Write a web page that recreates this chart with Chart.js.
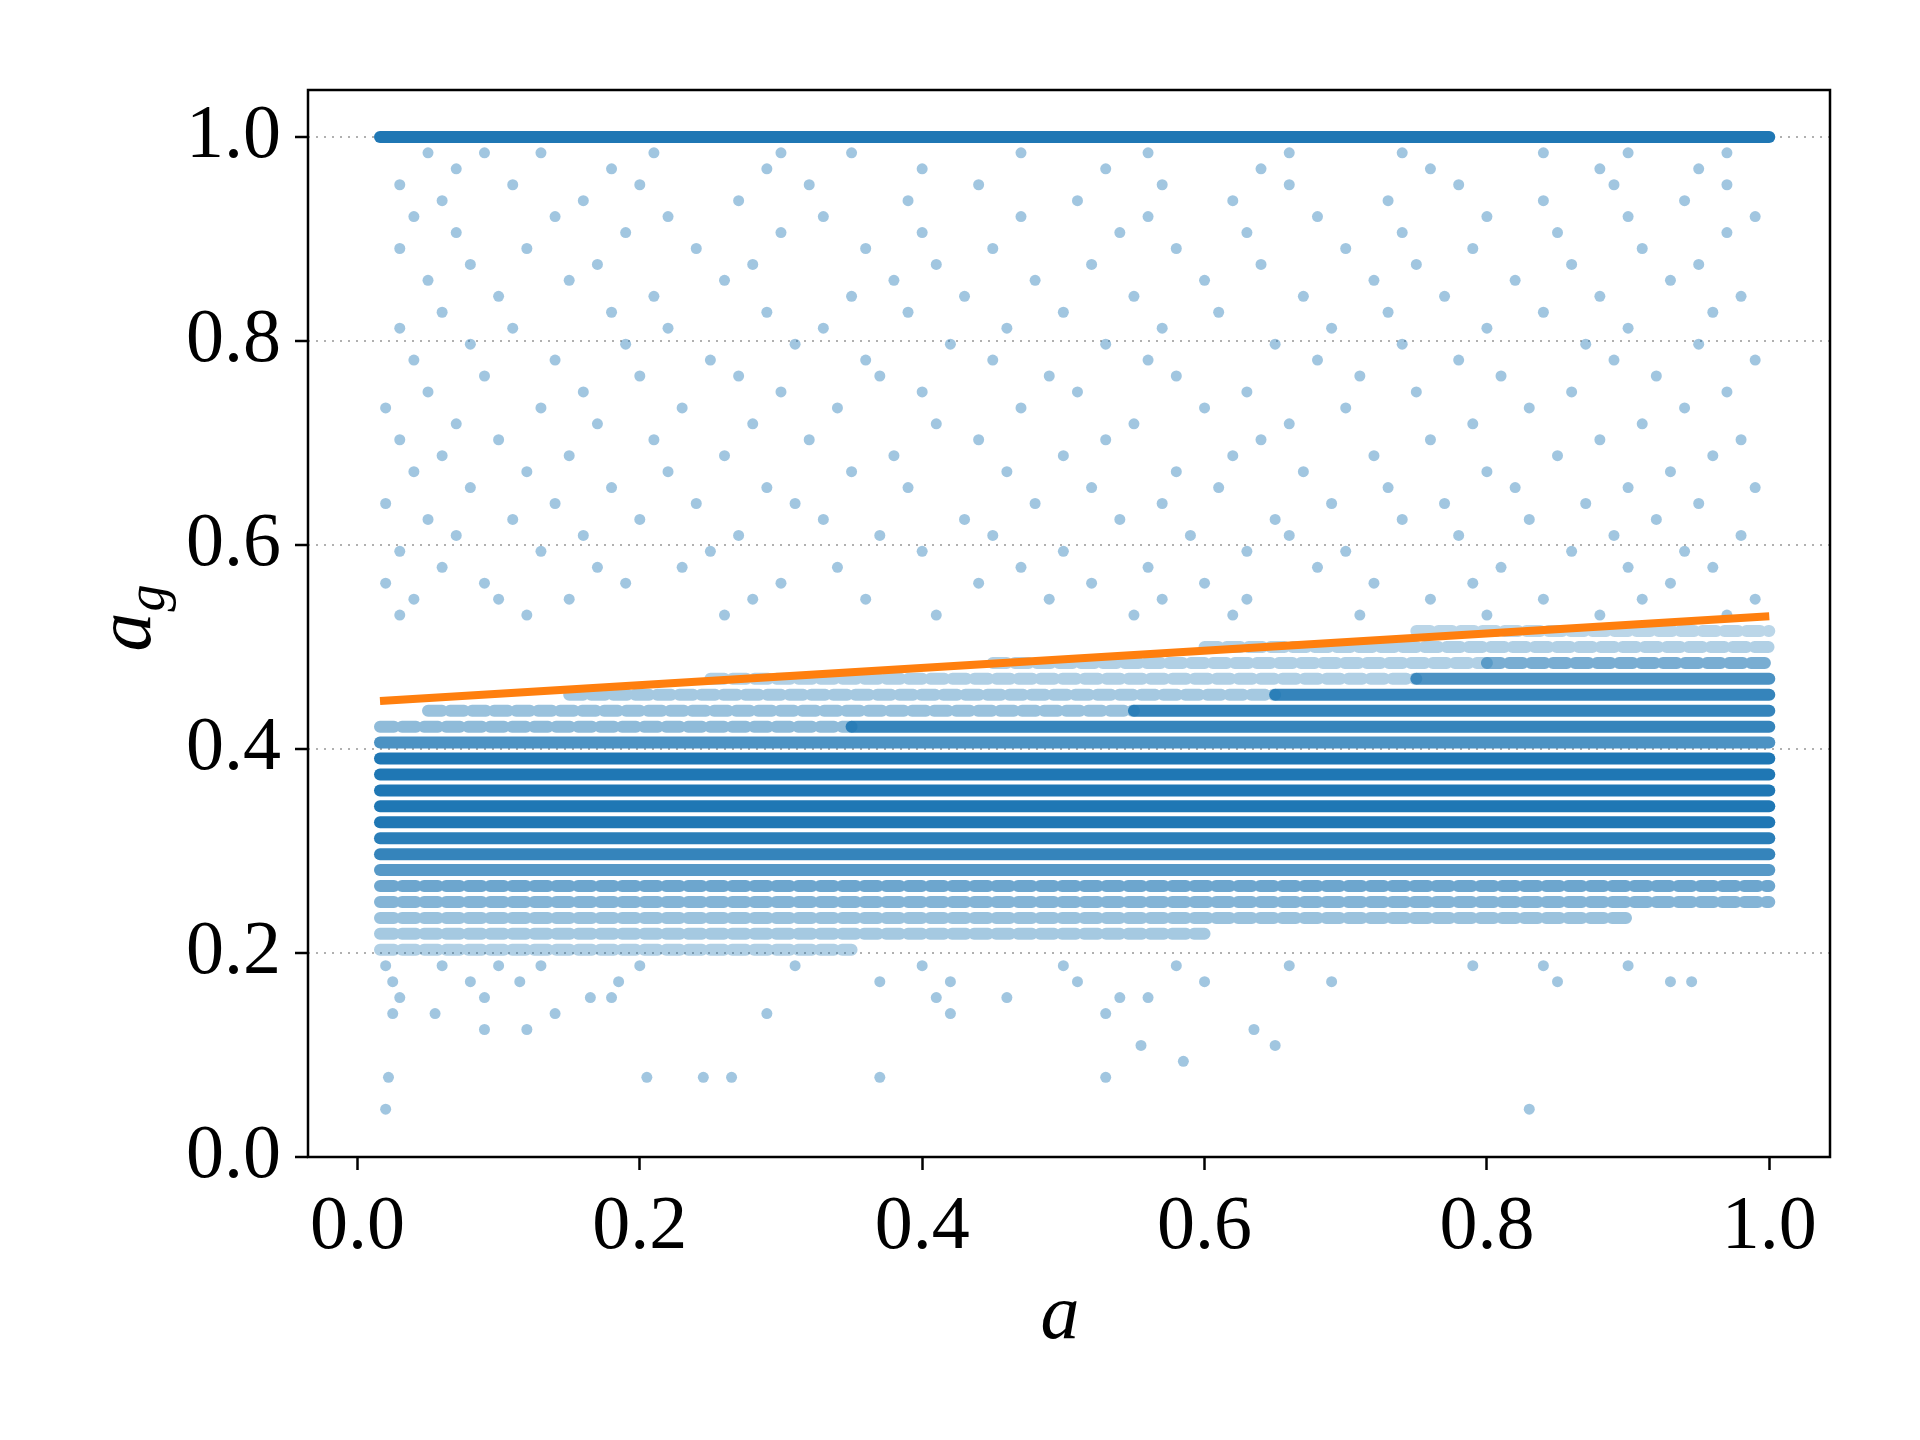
<!DOCTYPE html>
<html>
<head>
<meta charset="utf-8">
<script src="https://cdn.jsdelivr.net/npm/chart.js"></script>
<style>
  body { margin: 0; background: #fff; }
  #wrap { width: 1920px; height: 1440px; }
</style>
</head>
<body>
<div id="wrap"><canvas id="grafico" width="1920" height="1440"></canvas></div>
<script>
// valores (níveis em múltiplos de 1/64)
const xTicks = [0, 0.2, 0.4, 0.6, 0.8, 1.0];
const yTicks = [0, 0.2, 0.4, 0.6, 0.8, 1.0];

// faixas densas: [nivel k (y = k/64), x inicial, x final, opacidade]
const faixas = [
  [64, 0.016, 1.0, 1.0],
  [25, 0.016, 1.0, 1.0], [24, 0.016, 1.0, 1.0], [23, 0.016, 1.0, 1.0],
  [22, 0.016, 1.0, 1.0], [21, 0.016, 1.0, 1.0], [20, 0.016, 1.0, 0.95],
  [19, 0.016, 1.0, 0.9], [18, 0.016, 1.0, 0.75], [17, 0.016, 1.0, 0.65],
  [16, 0.016, 1.0, 0.55], [15, 0.016, 0.9, 0.45], [14, 0.016, 0.6, 0.4],
  [13, 0.016, 0.35, 0.35],
  [26, 0.016, 1.0, 0.8],
  [27, 0.016, 0.35, 0.5], [27, 0.35, 1.0, 0.9],
  [28, 0.05, 0.55, 0.45], [28, 0.55, 1.0, 0.9],
  [29, 0.15, 0.65, 0.4], [29, 0.65, 1.0, 0.9],
  [30, 0.25, 0.75, 0.35], [30, 0.75, 1.0, 0.8],
  [31, 0.45, 0.8, 0.35], [31, 0.8, 1.0, 0.6],
  [32, 0.6, 1.0, 0.35], [33, 0.75, 1.0, 0.3]
];

// pontos esparsos: [nivel k, lista de x]
const esparsos = [
  [3, [0.02, 0.83]],
  [5, [0.022, 0.205, 0.245, 0.265, 0.37, 0.53]],
  [6, [0.585]],
  [7, [0.555, 0.65]],
  [8, [0.09, 0.12, 0.635]],
  [9, [0.025, 0.055, 0.14, 0.29, 0.42, 0.53]],
  [10, [0.03, 0.09, 0.165, 0.18, 0.41, 0.46, 0.54, 0.56]],
  [11, [0.025, 0.08, 0.115, 0.185, 0.37, 0.42, 0.51, 0.6, 0.69, 0.85, 0.93, 0.945]],
  [12, [0.02, 0.06, 0.1, 0.13, 0.2, 0.31, 0.4, 0.5, 0.58, 0.66, 0.79, 0.84, 0.9]],
  [34, [0.03, 0.12, 0.26, 0.41, 0.55, 0.62, 0.71, 0.8, 0.88, 0.97]],
  [35, [0.04, 0.1, 0.15, 0.28, 0.36, 0.49, 0.57, 0.63, 0.76, 0.84, 0.91, 0.99]],
  [36, [0.02, 0.09, 0.19, 0.3, 0.44, 0.52, 0.6, 0.72, 0.79, 0.93]],
  [37, [0.06, 0.17, 0.23, 0.34, 0.47, 0.56, 0.68, 0.81, 0.9, 0.96]],
  [38, [0.03, 0.13, 0.25, 0.4, 0.5, 0.63, 0.7, 0.86, 0.94]],
  [39, [0.07, 0.16, 0.27, 0.37, 0.45, 0.59, 0.66, 0.78, 0.89, 0.98]],
  [40, [0.05, 0.11, 0.2, 0.33, 0.43, 0.54, 0.65, 0.74, 0.83, 0.92]],
  [41, [0.02, 0.14, 0.24, 0.31, 0.48, 0.57, 0.69, 0.77, 0.87, 0.95]],
  [42, [0.08, 0.18, 0.29, 0.39, 0.52, 0.61, 0.73, 0.82, 0.9, 0.99]],
  [43, [0.04, 0.12, 0.22, 0.35, 0.46, 0.58, 0.67, 0.8, 0.93]],
  [44, [0.06, 0.15, 0.26, 0.38, 0.5, 0.62, 0.72, 0.85, 0.96]],
  [45, [0.03, 0.1, 0.21, 0.32, 0.44, 0.53, 0.64, 0.76, 0.88, 0.98]],
  [46, [0.07, 0.17, 0.28, 0.41, 0.55, 0.66, 0.79, 0.91]],
  [47, [0.02, 0.13, 0.23, 0.34, 0.47, 0.6, 0.7, 0.83, 0.94]],
  [48, [0.05, 0.16, 0.3, 0.4, 0.51, 0.63, 0.75, 0.86, 0.97]],
  [49, [0.09, 0.2, 0.27, 0.37, 0.49, 0.58, 0.71, 0.81, 0.92]],
  [50, [0.04, 0.14, 0.25, 0.36, 0.45, 0.56, 0.68, 0.78, 0.89, 0.99]],
  [51, [0.08, 0.19, 0.31, 0.42, 0.53, 0.65, 0.74, 0.87, 0.95]],
  [52, [0.03, 0.11, 0.22, 0.33, 0.46, 0.57, 0.69, 0.8, 0.9]],
  [53, [0.06, 0.18, 0.29, 0.39, 0.5, 0.61, 0.73, 0.84, 0.96]],
  [54, [0.1, 0.21, 0.35, 0.43, 0.55, 0.67, 0.77, 0.88, 0.98]],
  [55, [0.05, 0.15, 0.26, 0.38, 0.48, 0.6, 0.72, 0.82, 0.93]],
  [56, [0.08, 0.17, 0.28, 0.41, 0.52, 0.64, 0.75, 0.86, 0.95]],
  [57, [0.03, 0.12, 0.24, 0.36, 0.45, 0.58, 0.7, 0.79, 0.91]],
  [58, [0.07, 0.19, 0.3, 0.4, 0.54, 0.63, 0.74, 0.85, 0.97]],
  [59, [0.04, 0.14, 0.22, 0.33, 0.47, 0.56, 0.68, 0.8, 0.9, 0.99]],
  [60, [0.06, 0.16, 0.27, 0.39, 0.51, 0.62, 0.73, 0.84, 0.94]],
  [61, [0.03, 0.11, 0.2, 0.32, 0.44, 0.57, 0.66, 0.78, 0.89, 0.97]],
  [62, [0.07, 0.18, 0.29, 0.4, 0.53, 0.64, 0.76, 0.88, 0.95]],
  [63, [0.05, 0.09, 0.13, 0.21, 0.3, 0.35, 0.47, 0.56, 0.66, 0.74, 0.84, 0.9, 0.97]]
];

// reta ajustada
const retaX = [0.016, 1.0];
const retaY = [0.447, 0.530];

const azul = a => `rgba(31,119,180,${a})`;
const conjuntos = [];

const pontos = [];
esparsos.forEach(([k, xs]) => xs.forEach(x => pontos.push({ x: x, y: k / 64 })));
conjuntos.push({
  type: 'scatter', data: pontos, pointRadius: 5.5, pointBorderWidth: 0,
  backgroundColor: azul(0.42), order: 3
});

faixas.forEach(([k, x0, x1, a]) => {
  conjuntos.push({
    type: 'line', data: [{ x: x0, y: k / 64 }, { x: x1, y: k / 64 }],
    borderColor: azul(a), borderWidth: 12, borderCapStyle: 'round',
    borderDash: a < 0.7 ? [14, 8] : [],
    pointRadius: 0, order: 2
  });
});

conjuntos.push({
  type: 'line', data: retaX.map((x, i) => ({ x: x, y: retaY[i] })),
  borderColor: 'rgb(255,127,14)', borderWidth: 8, pointRadius: 0, order: 1
});

const moldura = {
  id: 'moldura',
  afterDraw(chart) {
    const { ctx, chartArea: c } = chart;
    ctx.save();
    ctx.strokeStyle = '#000';
    ctx.lineWidth = 2.5;
    ctx.strokeRect(c.left, c.top, c.right - c.left, c.bottom - c.top);
    ctx.fillStyle = '#000';
    ctx.textAlign = 'center';
    ctx.textBaseline = 'alphabetic';
    ctx.font = 'italic 78px "Liberation Serif"';
    ctx.fillText('a', 1060, 1338);
    ctx.translate(150, 632);
    ctx.rotate(-Math.PI / 2);
    ctx.fillText('a', 0, 0);
    ctx.font = 'italic 54px "Liberation Serif"';
    ctx.fillText('g', 34, 14);
    ctx.restore();
  }
};

const fonteTick = { family: 'Liberation Serif', size: 76 };

new Chart(document.getElementById('grafico'), {
  type: 'scatter',
  data: { datasets: conjuntos },
  plugins: [moldura],
  options: {
    responsive: false,
    animation: false,
    events: [],
    layout: { padding: { left: 0, top: 90, right: 90, bottom: 0 } },
    plugins: { legend: { display: false }, tooltip: { enabled: false } },
    scales: {
      x: {
        type: 'linear', min: -0.035, max: 1.043,
        afterBuildTicks: s => { s.ticks = xTicks.map(v => ({ value: v })); },
        afterFit: s => { s.height = 1440 - 1157; },
        ticks: { font: fonteTick, color: '#000', padding: 12, maxRotation: 0,
                 callback: v => v.toFixed(1) },
        grid: { display: true, drawOnChartArea: false, tickLength: 13, tickWidth: 2.5,
                color: '#000' },
        border: { display: false }
      },
      y: {
        type: 'linear', min: 0, max: 1.046,
        afterBuildTicks: s => { s.ticks = yTicks.map(v => ({ value: v })); },
        afterFit: s => { s.width = 308; },
        ticks: { font: fonteTick, color: '#000', padding: 14,
                 callback: v => v.toFixed(1) },
        grid: {
          tickLength: 13, tickWidth: 2.5, tickColor: '#000',
          color: ctx => ctx.tick && ctx.tick.value === 0 ? 'rgba(0,0,0,0)' : '#b0b0b0',
          lineWidth: 2, tickBorderDash: [], borderDash: [2, 6]
        },
        border: { display: false, dash: [2, 6] }
      }
    }
  }
});
</script>
</body>
</html>
